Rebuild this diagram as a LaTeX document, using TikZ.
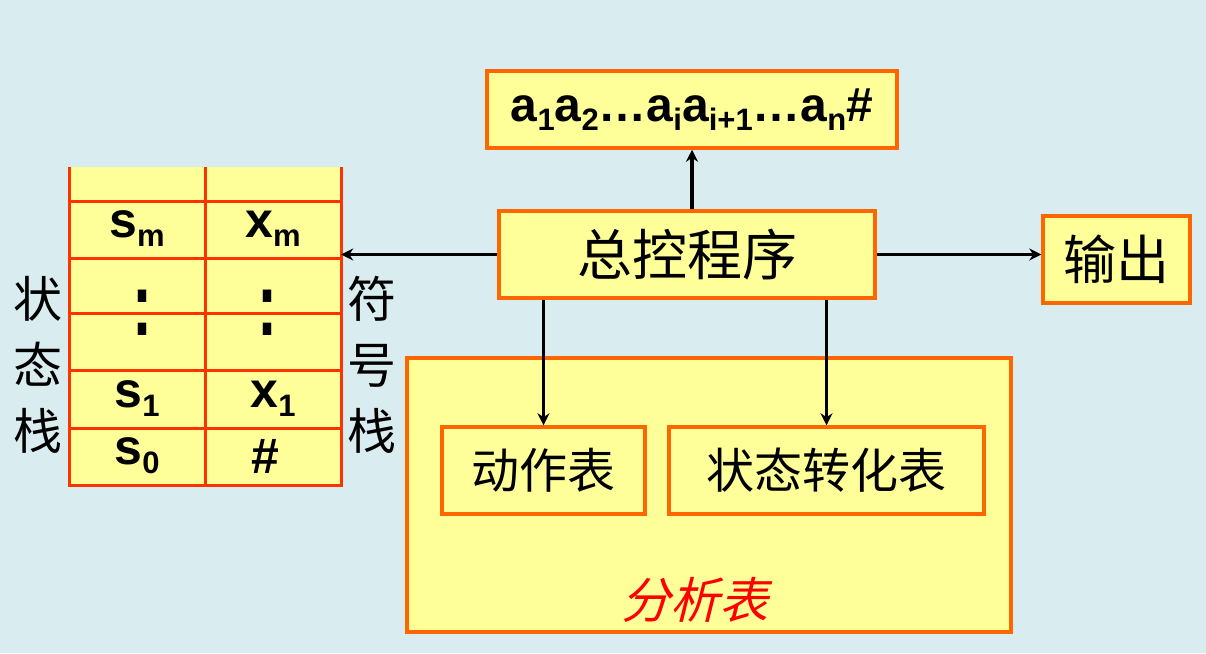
\documentclass[tikz,border=0pt]{standalone}
\usepackage{fontspec}
\setmainfont{Liberation Sans}
\newfontfamily\cjk{Noto Sans CJK SC}
\newfontfamily\cjkit[FakeSlant=0.25]{Noto Sans CJK SC}
\usetikzlibrary{arrows.meta}
\definecolor{bg}{HTML}{D9ECF0}
\definecolor{boxfill}{HTML}{FFFF99}
\definecolor{boxline}{HTML}{FF6600}
\definecolor{stackline}{HTML}{FF3300}
\definecolor{titlered}{HTML}{FF0000}
\newcommand\lowsub[1]{\raisebox{-9pt}{\fontsize{31}{31}\selectfont #1}}
\tikzset{
  box/.style={draw=boxline, fill=boxfill, line width=3.5pt, inner sep=0pt, rectangle},
  cjktext/.style={font=\cjk\fontsize{48}{48}\selectfont},
  latin/.style={font=\bfseries\fontsize{50}{50}\selectfont},
  conn/.style={draw=black, line width=3.5pt, -{Stealth[length=12pt,width=12pt]}},
  grid/.style={draw=stackline, line width=3pt},
  vlabel/.style={font=\cjk\fontsize{49}{66}\selectfont, align=center, inner sep=0pt}
}
\begin{document}
\begin{tikzpicture}[x=1pt,y=-1pt]
\useasboundingbox (0,0) rectangle (1206,653);
\fill[bg] (0,0) rectangle (1206,653);

% stack
\node[fill=boxfill, minimum width=272pt, minimum height=318pt, inner sep=0pt] (stack) at (205,326) {};
\draw[grid] (69,167) -- (69,485) -- (341,485) -- (341,167);
\draw[grid] (205,167) -- (205,485);
\foreach \y in {201,258,313,370,428} \draw[grid] (69,\y) -- (341,\y);

\node[latin] (sm) at (137,229) {s\lowsub{m}};
\node[latin] (xm) at (273,229) {x\lowsub{m}};
\node[latin, font=\bfseries\fontsize{60}{60}\selectfont] (cl) at (142,313) {\scalebox{1}[1.5]{:}};
\node[latin, font=\bfseries\fontsize{60}{60}\selectfont] (cr) at (267,313) {\scalebox{1}[1.5]{:}};
\node[latin] (s1) at (137,399) {s\lowsub{1}};
\node[latin] (x1) at (273,399) {x\lowsub{1}};
\node[latin] (s0) at (137,456) {s\lowsub{0}};
\node[latin] (h0) at (265,456) {\#};

\node[vlabel] (lstack) at (38,365) {状\\态\\栈};
\node[vlabel] (rstack) at (372,365) {符\\号\\栈};

% boxes
\node[box, minimum width=410pt, minimum height=77pt, font=\bfseries\fontsize{48}{48}\selectfont] (top) at (692,109.5) {a\lowsub{1}a\lowsub{2}\ldots a\lowsub{i}a\lowsub{i+1}\ldots a\lowsub{n}\#};
\node[box, minimum width=376pt, minimum height=87pt, font=\cjk\fontsize{55}{55}\selectfont] (ctrl) at (687,254.5) {总控程序};
\node[box, minimum width=147pt, minimum height=87pt, font=\cjk\fontsize{53}{53}\selectfont] (out) at (1116.5,259.5) {输出};
\node[box, minimum width=604pt, minimum height=274pt] (big) at (709,495) {};
\node[box, minimum width=203pt, minimum height=87pt, cjktext] (act) at (543.5,470.5) {动作表};
\node[box, minimum width=315pt, minimum height=87pt, cjktext] (st) at (826.5,470.5) {状态转化表};
\node[font=\cjkit\fontsize{49}{49}\selectfont, text=titlered] (title) at (695,600) {分析表};

% connectors
\draw[conn] (ctrl.north -| top.south) -- (top.south);
\draw[conn] (ctrl.west) -- (ctrl.west -| stack.east);
\draw[conn] (ctrl.east) -- (ctrl.east -| out.west);
\draw[conn] (ctrl.south -| act.north) -- (act.north);
\draw[conn] (ctrl.south -| st.north) -- (st.north);
\end{tikzpicture}
\end{document}
